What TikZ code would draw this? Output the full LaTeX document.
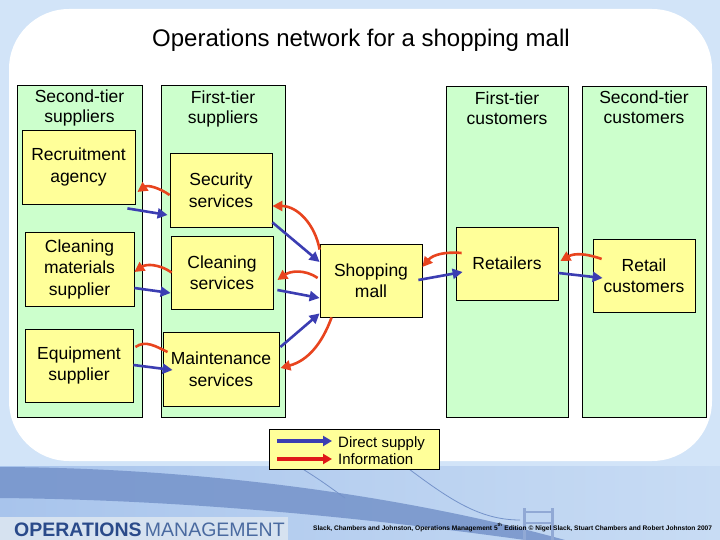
\documentclass[tikz,border=0pt]{standalone}
\usepackage{fontspec}
\setmainfont{Liberation Sans}
\usetikzlibrary{arrows.meta,positioning}
\definecolor{slidebg}{HTML}{D2E4F8}
\definecolor{tiergreen}{HTML}{CCFFCC}
\definecolor{boxyellow}{HTML}{FFFF99}
\definecolor{supplyblue}{HTML}{3B3DB2}
\definecolor{infored}{HTML}{E8441E}
\definecolor{legendred}{HTML}{E01818}
\definecolor{skyleft}{HTML}{A8C4EC}
\definecolor{skyright}{HTML}{C8DCF4}
\definecolor{deckblue}{HTML}{7593CA}
\definecolor{labelgrey}{HTML}{D6E2F0}
\definecolor{omblue}{HTML}{2A4A8A}
\definecolor{omlight}{HTML}{4A6AA0}
\tikzset{
  tier/.style={draw=black, fill=tiergreen, line width=0.8pt, inner sep=0pt},
  unit/.style={draw=black, fill=boxyellow, line width=0.8pt, align=center,
    inner sep=0pt, font=\fontsize{17.5}{21.5}\selectfont},
  head/.style={align=center, font=\fontsize{17.5}{20}\selectfont},
  supply/.style={draw=supplyblue, line width=2.6pt,
    -{Triangle[length=10pt,width=10pt]}},
  info/.style={draw=infored, line width=2.6pt,
    -{Triangle[length=10pt,width=10pt]}},
}
\begin{document}
\begin{tikzpicture}[x=1pt,y=-1pt]
      \useasboundingbox (0,0) rectangle (720,540);
%
      \fill[slidebg] (0,0) rectangle (720,540);
      \fill[white, rounded corners=60pt] (9,9) rectangle (712,461);
%
      \node (title) at (361,40) {\fontsize{24}{26}\selectfont Operations network for a shopping mall};
%
      % tiers
      \node[tier, minimum width=125pt, minimum height=332pt] (col1) at (79.5,251) {};
      \node[tier, minimum width=124pt, minimum height=332pt] (col2) at (223,251) {};
      \node[tier, minimum width=122pt, minimum height=331pt] (col3) at (507,251.5) {};
      \node[tier, minimum width=124pt, minimum height=331pt] (col4) at (644,251.5) {};
%
      \node[head, below=2pt of col1.north] (h1) {Second-tier\\suppliers};
      \node[head, below=3pt of col2.north] (h2) {First-tier\\suppliers};
      \node[head, below=3pt of col3.north] (h3) {First-tier\\customers};
      \node[head, below=2pt of col4.north] (h4) {Second-tier\\customers};
%
      % operations
      \node[unit, minimum width=113pt, minimum height=74pt] (rec) at (78.5,167) {Recruitment\\agency};
      \node[unit, minimum width=109pt, minimum height=74pt] (clm) at (79.5,269) {Cleaning\\materials\\supplier};
      \node[unit, minimum width=108pt, minimum height=73pt] (eqp) at (79,365.5) {Equipment\\supplier};
      \node[unit, minimum width=102pt, minimum height=74pt] (sec) at (221,190) {Security\\services};
      \node[unit, minimum width=102pt, minimum height=73pt] (cls) at (222,272.5) {Cleaning\\services};
      \node[unit, minimum width=116pt, minimum height=74pt] (mnt) at (221,369) {Maintenance\\services};
      \node[unit, minimum width=102pt, minimum height=73pt] (mall) at (371,280.5) {Shopping\\mall};
      \node[unit, minimum width=102pt, minimum height=73pt] (ret) at (507,263.5) {Retailers};
      \node[unit, minimum width=102pt, minimum height=73pt] (rcu) at (644,275.5) {Retail\\customers};
%
      % second-tier to first-tier suppliers
      \draw[info] ([yshift=-5pt]sec.west) to[out=145,in=35] ([xshift=2pt,yshift=-25pt]rec.east);
      \draw[supply] ([xshift=-8pt,yshift=-4pt]rec.south east) -- ([xshift=-2pt,yshift=-25pt]sec.west);
      \draw[info] ([xshift=1pt]cls.west) to[out=145,in=35] ([yshift=-3pt]clm.east);
      \draw[supply] ([yshift=-19pt]clm.east) -- ([yshift=-20.5pt]cls.west);
      \draw[draw=infored, line width=2.6pt] ([xshift=2pt,yshift=18.5pt]eqp.east) to[out=35,in=155] ([xshift=5pt,yshift=17pt]mnt.west);
      \draw[supply] ([yshift=0.5pt]eqp.east) -- ([xshift=10pt,yshift=-1pt]mnt.west);
%
      % first-tier suppliers to mall
      \draw[info] ([yshift=-6pt]mall.north west) to[out=100,in=0] ([yshift=-16pt]sec.east);
      \draw[supply] ([yshift=5pt]sec.south east) -- ([yshift=18.5pt]mall.west);
      \draw[info] ([xshift=-2pt,yshift=2.5pt]mall.west) to[out=145,in=35] ([xshift=4pt,yshift=-7.5pt]cls.east);
      \draw[supply] ([xshift=4pt,yshift=-17.5pt]cls.east) -- ([yshift=-17.5pt]mall.west);
      \draw[supply] ([xshift=1pt,yshift=22pt]mnt.east) -- ([yshift=4pt]mall.south west);
      \draw[info] ([xshift=12pt]mall.south west) to[out=-110,in=15] ([xshift=1pt,yshift=1pt]mnt.east);
%
      % mall to customers
      \draw[info] ([xshift=6pt,yshift=10.5pt]ret.west) to[out=175,in=50] ([yshift=13.5pt]mall.east);
      \draw[supply] ([xshift=-4pt,yshift=0.5pt]mall.east) -- ([xshift=7pt,yshift=-8.5pt]ret.west);
      \draw[info] ([xshift=9pt,yshift=16.5pt]rcu.west) to[out=160,in=30] ([xshift=2pt,yshift=2.5pt]ret.east);
      \draw[supply] ([yshift=-9.5pt]ret.east) -- ([xshift=10pt,yshift=-2.5pt]rcu.west);
%
      % footer picture
      \shade[left color=skyleft, right color=skyright] (0,466) rectangle (720,540);
      \fill[deckblue, opacity=0.85] (0,467) .. controls (220,468) and (420,500) .. (565,540)
            -- (525,540) .. controls (380,520) and (200,500) .. (0,498) -- cycle;
      \draw[deckblue, line width=0.8pt] (298,466) .. controls (320,480) .. (345,498);
      \draw[deckblue, line width=0.8pt] (405,466) .. controls (450,500) and (480,520) .. (520,520);
      \draw[deckblue!80, line width=3pt] (524,508) -- (524,540);
      \draw[deckblue!80, line width=3pt] (552,508) -- (552,540);
      \draw[deckblue!80, line width=1.5pt] (524,512) -- (552,512);
      \draw[deckblue!80, line width=1.5pt] (524,523) -- (552,523);
      \fill[labelgrey] (0,517) rectangle (288,540);
      \node[anchor=base west, inner sep=0pt] (om) at (14,536)
            {\fontsize{19.5}{20}\selectfont\textcolor{omblue}{\bfseries OPERATIONS}\,\textcolor{omlight}{MANAGEMENT}};
      \node[anchor=base west, inner sep=0pt] (credit) at (313,530)
            {\fontsize{6.6}{7}\selectfont\bfseries Slack, Chambers and Johnston, Operations Management 5\textsuperscript{th} Edition \textcopyright{} Nigel Slack, Stuart Chambers and Robert Johnston 2007};
%
      % legend
      \node[draw=black, fill=boxyellow, line width=0.8pt, minimum width=170pt, minimum height=40pt, inner sep=0pt] (key) at (354,449) {};
      \coordinate (ks1) at (277,441);
      \coordinate (ke1) at (332,441);
      \coordinate (ks2) at (277,459);
      \coordinate (ke2) at (332,459);
      \draw[draw=supplyblue, line width=3.5pt, -{Triangle[length=9pt,width=10pt]}] (ks1) -- (ke1);
      \draw[draw=legendred, line width=3.5pt, -{Triangle[length=9pt,width=10pt]}] (ks2) -- (ke2);
      \node[anchor=west, align=left, inner sep=0pt, font=\fontsize{15}{17}\selectfont] (keytext) at (338,450.5) {Direct supply\\Information};
%
      \end{tikzpicture}
\end{document}
